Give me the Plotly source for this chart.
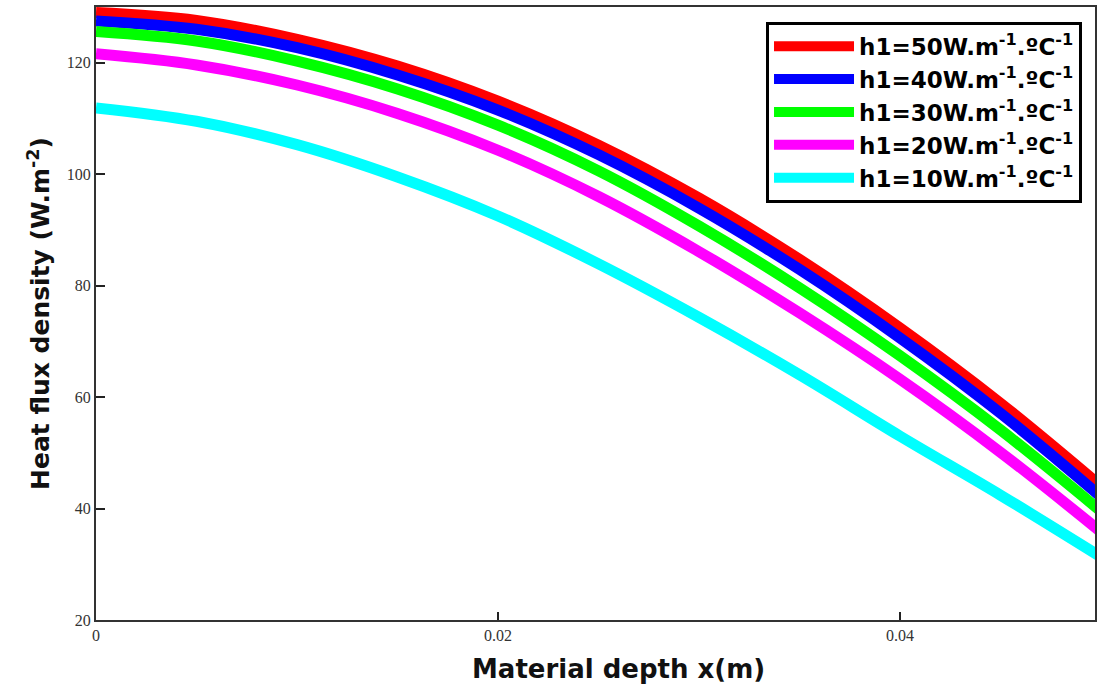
import plotly.graph_objects as go

x_depth = [0, 0.005, 0.01, 0.015, 0.02, 0.025, 0.03, 0.035, 0.04, 0.045, 0.05]

q_h50 = [129.0, 127.6, 124.2, 119.4, 113.1, 105.2, 95.7, 84.7, 72.4, 58.9, 44.0]
q_h40 = [127.5, 126.0, 122.7, 117.8, 111.5, 103.5, 93.9, 82.9, 70.6, 57.1, 42.1]
q_h30 = [125.6, 123.9, 120.3, 115.3, 108.8, 100.6, 90.7, 79.6, 67.4, 54.1, 39.5]
q_h20 = [121.6, 119.6, 116.0, 110.9, 104.3, 96.0, 86.1, 75.1, 63.2, 50.1, 35.8]
q_h10 = [111.9, 109.5, 105.3, 99.5, 92.5, 83.9, 74.3, 64.0, 53.0, 42.4, 31.3]

series = [
    ("h1=50W.m<sup>-1</sup>.ºC<sup>-1</sup>", q_h50, "#ff0000"),
    ("h1=40W.m<sup>-1</sup>.ºC<sup>-1</sup>", q_h40, "#0000ff"),
    ("h1=30W.m<sup>-1</sup>.ºC<sup>-1</sup>", q_h30, "#00ff00"),
    ("h1=20W.m<sup>-1</sup>.ºC<sup>-1</sup>", q_h20, "#ff00ff"),
    ("h1=10W.m<sup>-1</sup>.ºC<sup>-1</sup>", q_h10, "#00ffff"),
]

x_ticks = [0, 0.02, 0.04]
x_tick_labels = ["0", "0.02", "0.04"]
y_ticks = [20, 40, 60, 80, 100, 120]
x_title = "<b>Material depth x(m)</b>"
y_title = "<b>Heat flux density (W.m<sup>-2</sup>)</b>"

fig = go.Figure()
for i, (name, vals, col) in enumerate(series):
    fig.add_trace(go.Scatter(
        x=x_depth, y=vals, mode="lines", name=name, legendgroup=f"g{i}",
        line=dict(color=col, width=11, shape="spline", smoothing=1.0),
    ))

tick_font = dict(family="Liberation Serif, Times New Roman, serif", size=16, color="#333333")
x_title_font = dict(family="DejaVu Sans, Arial, sans-serif", size=26, color="#111111")
y_title_font = dict(family="DejaVu Sans, Arial, sans-serif", size=25, color="#111111")

fig.update_layout(
    width=1097, height=690,
    margin=dict(l=96, r=0, t=7, b=70),
    paper_bgcolor="white", plot_bgcolor="white",
    showlegend=True,
    legend=dict(
        x=0.987, y=0.976, xanchor="right", yanchor="top",
        bgcolor="white", bordercolor="black", borderwidth=3,
        font=dict(family="DejaVu Sans, Arial, sans-serif", size=23, color="black", weight="bold"),
        tracegroupgap=0, itemwidth=80,
    ),
    xaxis=dict(
        range=[0, 0.0497], tickvals=x_ticks, ticktext=x_tick_labels,
        ticks="inside", ticklen=8, tickwidth=2, tickcolor="#222",
        showline=True, linecolor="#333", linewidth=2, mirror=True,
        showgrid=False, zeroline=False, tickfont=tick_font,
    ),
    yaxis=dict(
        range=[20, 130], tickvals=y_ticks,
        ticks="inside", ticklen=9, tickwidth=2, tickcolor="#222",
        showline=True, linecolor="#333", linewidth=2, mirror=True,
        showgrid=False, zeroline=False, tickfont=tick_font,
        title=dict(text=y_title, font=y_title_font, standoff=10),
    ),
    annotations=[dict(
        text=x_title, font=x_title_font, xref="paper", yref="paper",
        x=0.523, y=-0.052, xanchor="center", yanchor="top", showarrow=False,
    )],
)

fig.write_html("out.html")
